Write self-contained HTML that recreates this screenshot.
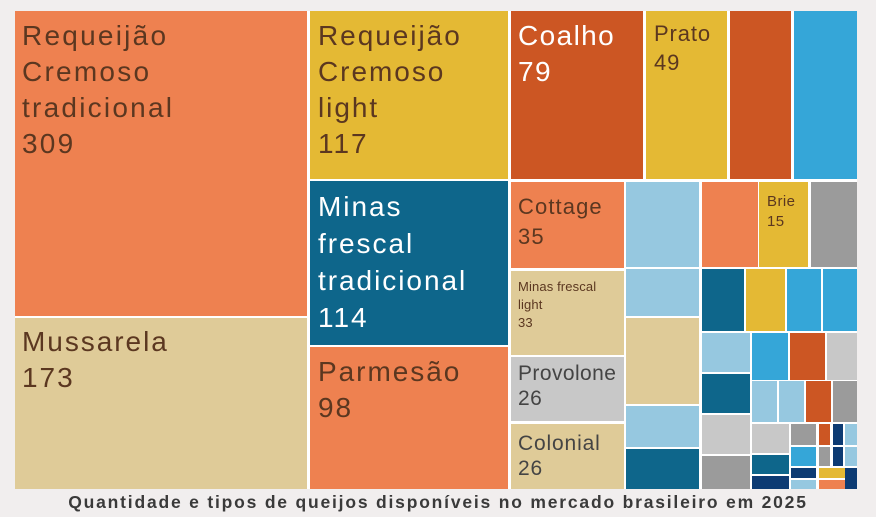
<!DOCTYPE html>
<html><head><meta charset="utf-8"><style>
body{margin:0;width:876px;height:517px;background:#f1eeee;position:relative;overflow:hidden;font-family:"Liberation Sans",sans-serif}
#c{position:absolute;left:15px;top:11px;width:842px;height:478px;background:#fff}
.r{position:absolute;box-sizing:border-box}
.t{position:absolute;white-space:nowrap;color:#5b3720}
.title{position:absolute;left:0;width:876px;top:492px;text-align:center;font-weight:bold;font-size:17.5px;color:#3a3a3a;letter-spacing:1.8px}
</style></head><body>
<div id="c"></div>
<script>
const O='#ee8150',T='#dfcb98',Y='#e4b934',D='#0e668b',R='#cc5623',B='#35a6d8',L='#96c8e0',G='#c8c8c8',M='#9b9b9b',N='#0d3b73';
const rs=[
[15,11,307,316,O],[15,318,307,489,T],[310,11,508,179,Y],[310,181,508,345,D],[310,347,508,489,O],
[511,11,643,179,R],[646,11,727,179,Y],[730,11,791,179,R],[794,11,857,179,B],
[511,182,624,268,O],[511,271,624,355,T],[511,357,624,421,G],[511,424,624,489,T],
[626,182,699,267,L],[626,269,699,316,L],[626,318,699,404,T],[626,406,699,447,L],[626,449,699,489,D],
[702,182,758,267,O],[759,182,808,267,Y],[811,182,857,267,M],
[702,269,744,331,D],[746,269,785,331,Y],[787,269,821,331,B],[823,269,857,331,B],
[702,333,750,372,L],[752,333,788,380,B],[790,333,825,380,R],[827,333,857,380,G],
[702,374,750,413,D],[752,381,777,422,L],[779,381,804,422,L],[806,381,831,422,R],[833,381,857,422,M],
[702,415,750,454,G],[702,456,750,489,M],
[752,424,789,453,G],[752,455,789,474,D],[752,476,789,489,N],
[791,424,816,445,M],[791,447,816,466,B],[791,468,816,478,N],[791,480,816,489,L],
[819,424,830,445,R],[819,447,830,466,M],[819,468,852,478,Y],[819,480,852,489,O],
[833,424,843,445,N],[833,447,843,466,N],[845,424,857,445,L],[845,447,857,466,L],[845,468,857,489,N]];
let h='';
for(const [a,b,c,d,col] of rs)h+=`<div class="r" style="left:${a}px;top:${b}px;width:${c-a}px;height:${d-b}px;background:${col}"></div>`;
const ts=[
[22,18,28,36,'#5b3720',['Requeijão','Cremoso','tradicional','309'],0.08],
[22,324,28,36,'#5b3720',['Mussarela','173'],0.07],
[318,18,28,36,'#5b3720',['Requeijão','Cremoso','light','117'],0.07],
[318,188,28,37,'#fff',['Minas','frescal','tradicional','114'],0.07],
[318,354,28,36,'#5b3720',['Parmesão','98'],0.07],
[518,18,28,36,'#fff',['Coalho','79'],0.05],
[654,19,22,29,'#5b3720',['Prato','49'],0.04],
[518,192,22,30,'#5b3720',['Cottage','35'],0.05],
[518,278,13,18,'#5b3720',['Minas frescal','light','33'],0.01],
[518,361,21,25,'#444',['Provolone','26'],0.02],
[518,431,21,25,'#444',['Colonial','26'],0.04],
[767,192,15,20,'#5b3720',['Brie','15'],0.03]];
for(const [x,y,fs,lh,col,lines,ls] of ts)h+=`<div class="t" style="left:${x}px;top:${y}px;font-size:${fs}px;line-height:${lh}px;color:${col};letter-spacing:${ls}em">${lines.join('<br>')}</div>`;
document.write(h);
</script>
<div class="title">Quantidade e tipos de queijos disponíveis no mercado brasileiro em 2025</div>
</body></html>
